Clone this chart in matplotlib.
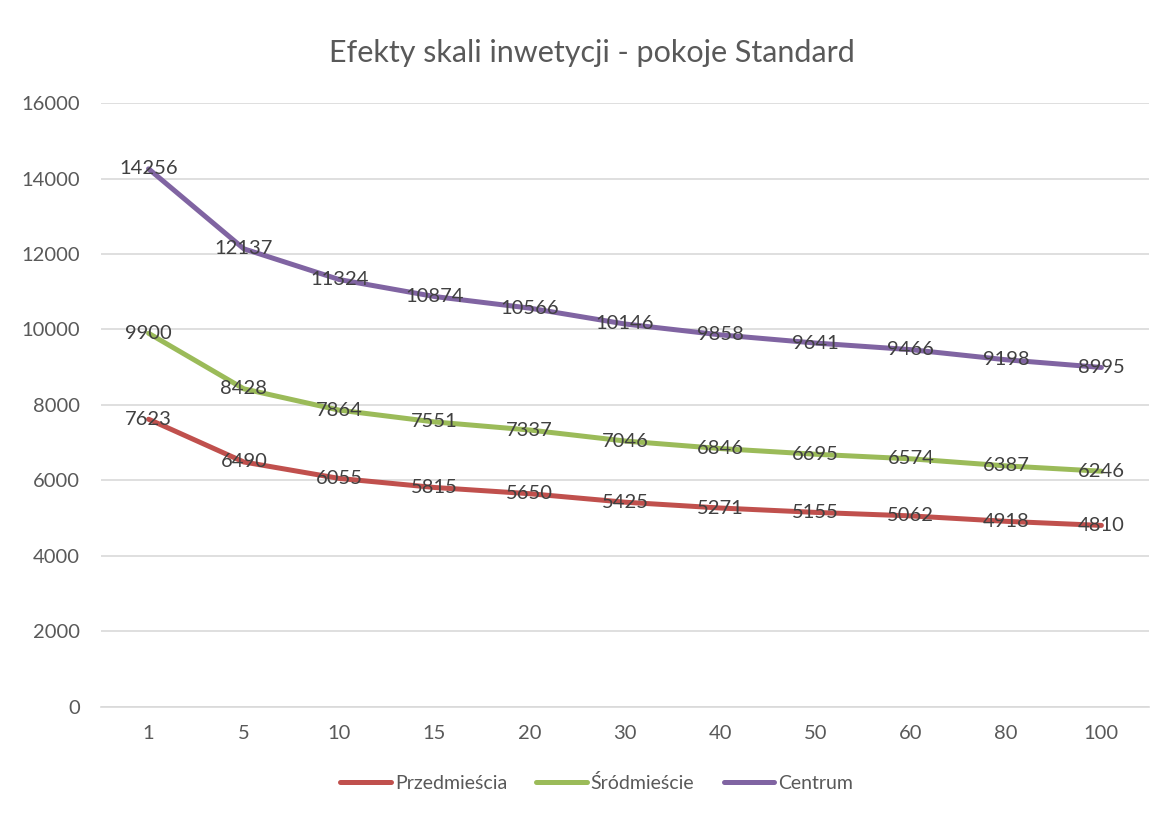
import matplotlib.pyplot as plt

# Dane: liczba pokoi i koszt na pokój dla trzech lokalizacji
kategorie = ["1", "5", "10", "15", "20", "30", "40", "50", "60", "80", "100"]
przedmiescia = [7623, 6490, 6055, 5815, 5650, 5425, 5271, 5155, 5062, 4918, 4810]
srodmiescie = [9900, 8428, 7864, 7551, 7337, 7046, 6846, 6695, 6574, 6387, 6246]
centrum = [14256, 12137, 11324, 10874, 10566, 10146, 9858, 9641, 9466, 9198, 8995]

serie = [
    ("Przedmieścia", przedmiescia, "#C0504D"),
    ("Śródmieście", srodmiescie, "#9BBB59"),
    ("Centrum", centrum, "#8064A2"),
]

plt.rcParams["font.family"] = ["Lato", "DejaVu Sans"]

fig = plt.figure(figsize=(11.63, 8.13), dpi=100)
ax = fig.add_axes([0.0868, 0.1304, 0.9012, 0.7429])

x = list(range(len(kategorie)))
for nazwa, wartosci, kolor in serie:
    ax.plot(x, wartosci, color=kolor, linewidth=3.6, label=nazwa,
            solid_capstyle="round", zorder=3)
    # Etykiety z wartościami na środku punktów
    for xi, v in zip(x, wartosci):
        ax.text(xi, v, str(v), ha="center", va="center", fontsize=14.5,
                color="#404040", zorder=4)

ax.set_xlim(-0.5, len(kategorie) - 0.5)
ax.set_ylim(0, 16000)
ax.set_yticks(range(0, 16001, 2000))
ax.set_xticks(x)
ax.set_xticklabels(kategorie)
ax.tick_params(axis="both", length=0, labelsize=14.5, colors="#595959")
ax.tick_params(axis="y", pad=15)
ax.tick_params(axis="x", pad=13)

ax.grid(axis="y", color="#D9D9D9", linewidth=1.2)
ax.set_axisbelow(True)
for s in ["top", "right", "left"]:
    ax.spines[s].set_visible(False)
ax.spines["bottom"].set_color("#D9D9D9")
ax.spines["bottom"].set_linewidth(1.2)

fig.text(0.509, 0.935, "Efekty skali inwetycji - pokoje Standard", ha="center",
         va="center", fontsize=22, color="#595959")

fig.legend(loc="center", bbox_to_anchor=(0.513, 0.037), ncol=3, frameon=False,
           fontsize=14, labelcolor="#595959", handlelength=2.6,
           columnspacing=1.5, handletextpad=0.2)

fig.savefig("out.png", dpi=100, facecolor="white")
